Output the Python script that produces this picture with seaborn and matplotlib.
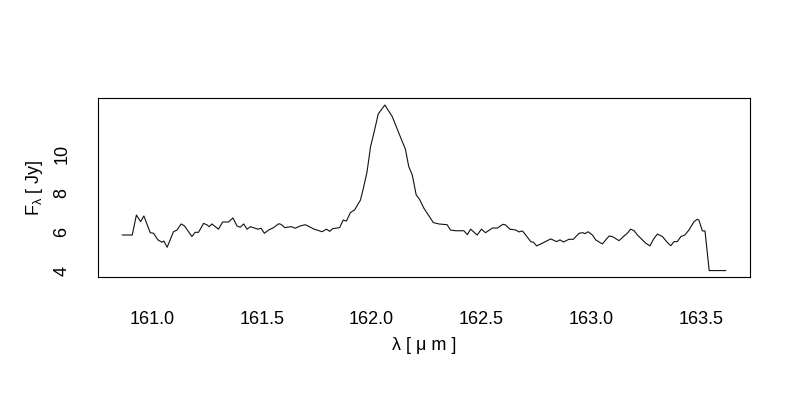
import numpy as np
import pandas as pd
import matplotlib
matplotlib.use('Agg')
import matplotlib.pyplot as plt
import seaborn as sns

# spectrum
wavelength = [
    160.863, 160.909, 160.928, 160.947, 160.962, 160.991, 161.006, 161.026, 161.044, 161.053,
    161.068, 161.097, 161.113, 161.132, 161.147, 161.181, 161.196, 161.211, 161.234, 161.250,
    161.260, 161.272, 161.302, 161.321, 161.348, 161.368, 161.386, 161.401, 161.417, 161.432,
    161.447, 161.482, 161.496, 161.511, 161.531, 161.553, 161.576, 161.587, 161.604, 161.634,
    161.652, 161.675, 161.698, 161.736, 161.774, 161.794, 161.809, 161.823, 161.854, 161.870,
    161.885, 161.903, 161.922, 161.949, 161.964, 161.979, 161.995, 162.010, 162.030, 162.060,
    162.094, 162.124, 162.154, 162.169, 162.185, 162.203, 162.218, 162.238, 162.261, 162.281,
    162.306, 162.344, 162.359, 162.382, 162.420, 162.436, 162.451, 162.481, 162.500, 162.519,
    162.550, 162.573, 162.598, 162.610, 162.630, 162.656, 162.671, 162.687, 162.702, 162.725,
    162.737, 162.752, 162.778, 162.816, 162.843, 162.858, 162.874, 162.899, 162.919, 162.945,
    162.963, 162.972, 162.986, 163.006, 163.021, 163.051, 163.082, 163.097, 163.127, 163.150,
    163.165, 163.180, 163.196, 163.211, 163.234, 163.249, 163.268, 163.284, 163.302, 163.325,
    163.348, 163.363, 163.378, 163.393, 163.409, 163.427, 163.446, 163.469, 163.484, 163.491,
    163.507, 163.519, 163.538, 163.614,
]
flux = [
    5.85, 5.85, 6.88, 6.54, 6.83, 5.97, 5.94, 5.60, 5.48, 5.54,
    5.22, 6.02, 6.11, 6.42, 6.32, 5.77, 5.99, 5.99, 6.45, 6.37,
    6.28, 6.42, 6.15, 6.52, 6.52, 6.73, 6.32, 6.25, 6.42, 6.15,
    6.28, 6.15, 6.20, 5.94, 6.11, 6.23, 6.43, 6.40, 6.23, 6.28,
    6.20, 6.32, 6.38, 6.16, 6.02, 6.15, 6.04, 6.18, 6.23, 6.62,
    6.57, 7.00, 7.14, 7.65, 8.34, 9.11, 10.40, 11.09, 12.08, 12.54,
    11.94, 11.09, 10.26, 9.37, 8.94, 7.91, 7.69, 7.23, 6.83, 6.49,
    6.42, 6.38, 6.11, 6.07, 6.07, 5.87, 6.15, 5.85, 6.15, 5.97,
    6.21, 6.21, 6.40, 6.37, 6.15, 6.11, 6.01, 6.06, 5.85, 5.51,
    5.48, 5.29, 5.43, 5.65, 5.51, 5.60, 5.49, 5.63, 5.63, 5.94,
    5.97, 5.92, 6.02, 5.85, 5.60, 5.39, 5.80, 5.77, 5.56, 5.80,
    5.94, 6.15, 6.07, 5.85, 5.60, 5.43, 5.29, 5.63, 5.90, 5.77,
    5.46, 5.30, 5.51, 5.51, 5.77, 5.85, 6.11, 6.54, 6.66, 6.62,
    6.06, 6.06, 4.02, 4.02,
]
x_ticks = [161.0, 161.5, 162.0, 162.5, 163.0, 163.5]
x_tick_labels = ['161.0', '161.5', '162.0', '162.5', '163.0', '163.5']
y_ticks = [4, 6, 8, 10, 12]
y_tick_labels = ['4', '6', '8', '10', '']

spec = pd.DataFrame({'wl': wavelength, 'flux': flux})

sns.set_theme(style='white')
plt.rcParams['font.family'] = ['Liberation Sans', 'DejaVu Sans']
plt.rcParams['mathtext.fontset'] = 'custom'
plt.rcParams['mathtext.rm'] = 'Liberation Sans'
plt.rcParams['mathtext.it'] = 'Liberation Sans'

fig = plt.figure(figsize=(8, 4), dpi=100)
ax = fig.add_axes([0.1225, 0.307, 0.815, 0.447])

sns.lineplot(data=spec, x='wl', y='flux', ax=ax, color='#111111', lw=0.8, sort=False)

# R style 4% padding
xr = spec['wl'].max() - spec['wl'].min()
yr = spec['flux'].max() - spec['flux'].min()
ax.set_xlim(spec['wl'].min() - 0.04 * xr, spec['wl'].max() + 0.04 * xr)
ax.set_ylim(spec['flux'].min() - 0.04 * yr, spec['flux'].max() + 0.04 * yr)

ax.set_xticks(x_ticks)
ax.set_xticklabels(x_tick_labels)
ax.set_yticks(y_ticks)
ax.set_yticklabels(y_tick_labels, rotation=90, va='center')

ax.tick_params(axis='both', direction='in', length=3, width=0.8, color='black',
               labelsize=13, labelcolor='black')
ax.tick_params(axis='x', pad=24)
ax.tick_params(axis='y', pad=20)

for s in ax.spines.values():
    s.set_color('black')
    s.set_linewidth(0.8)

ax.set_xlabel('λ [ μ m ]', fontsize=13, color='black', labelpad=7)
ax.set_ylabel(r'F$_\mathregular{λ}$ [ Jy]', fontsize=13, color='black', labelpad=6)

fig.savefig('out.png', dpi=100, facecolor='white')
